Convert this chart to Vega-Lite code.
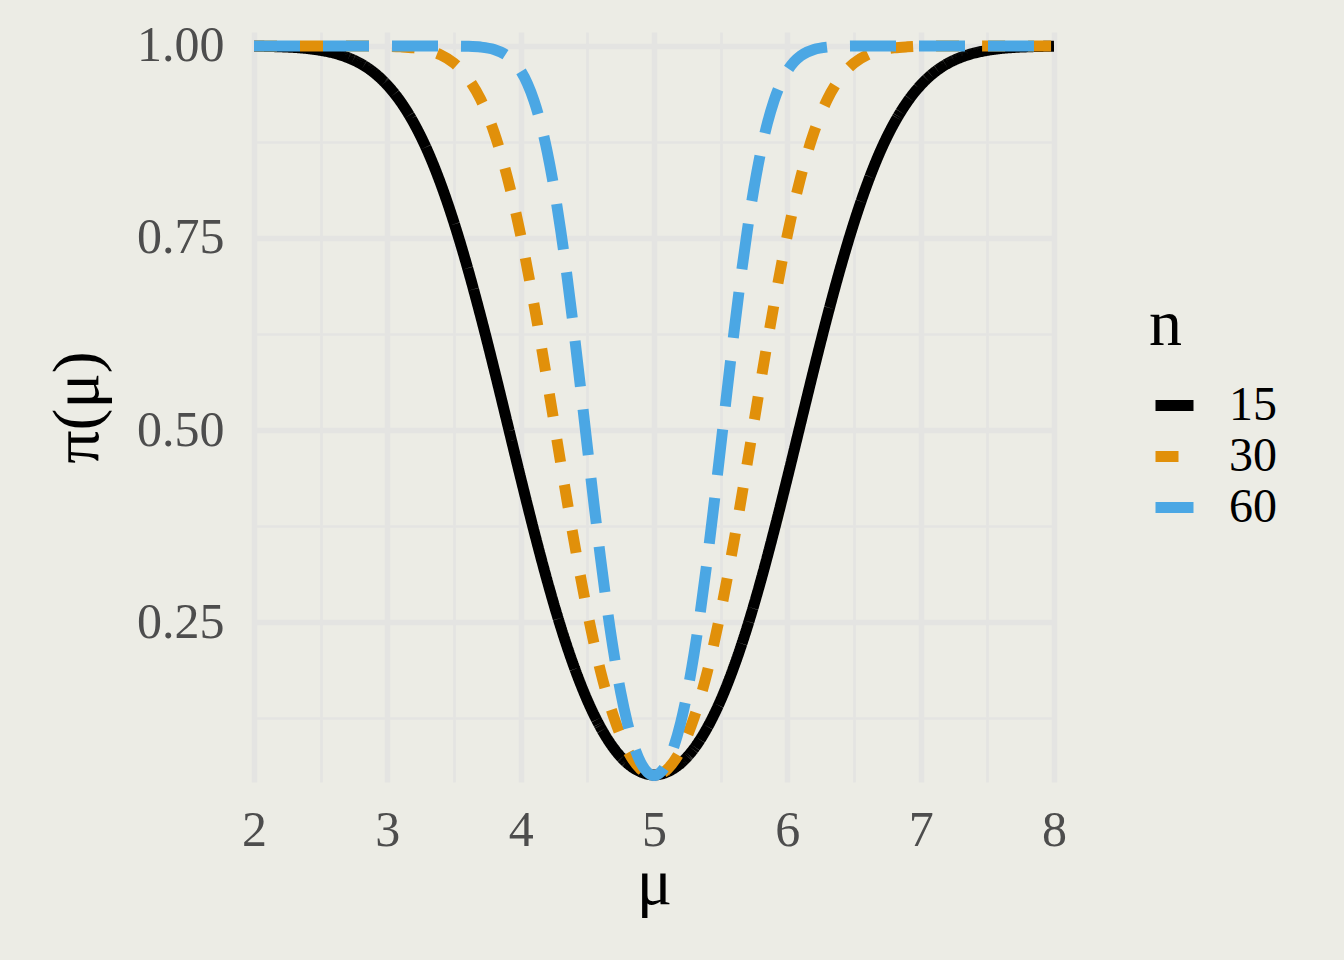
{
  "$schema": "https://vega.github.io/schema/vega-lite/v6.json",
  "autosize": {"type": "none"},
  "padding": {"left": 254, "top": 32, "right": 290, "bottom": 178},
  "width": 800,
  "height": 750,
  "background": "#ECECE5",
  "config": {
    "view": {"stroke": null, "fill": "#ECECE5"},
    "font": "Liberation Serif",
    "axis": {
      "domain": false,
      "ticks": false,
      "tickSize": 0,
      "labelFont": "Liberation Serif",
      "labelFontSize": 50,
      "labelColor": "#4D4D4D",
      "titleFont": "Liberation Serif",
      "titleFontSize": 66,
      "titleFontWeight": "normal",
      "titleColor": "#000000",
      "gridColor": "#E4E4E2",
      "gridOpacity": 1,
      "labelOverlap": false,
      "labelFlush": false
    },
    "legend": {
      "titleFont": "Liberation Serif",
      "titleFontSize": 66,
      "titleFontWeight": "normal",
      "titleColor": "#000000",
      "labelFont": "Liberation Serif",
      "labelFontSize": 48,
      "labelColor": "#000000",
      "symbolType": "stroke",
      "symbolSize": 1444,
      "symbolStrokeWidth": 11,
      "labelOffset": 30,
      "titlePadding": 22,
      "padding": 0,
      "symbolOffset": 1
    }
  },
  "data": {
    "values": [
      {"n": "15", "mu": 2.0, "p": 0.9997}, {"n": "15", "mu": 2.1, "p": 0.9994}, {"n": "15", "mu": 2.2, "p": 0.9989}, {"n": "15", "mu": 2.3, "p": 0.9981},
      {"n": "15", "mu": 2.4, "p": 0.9967}, {"n": "15", "mu": 2.5, "p": 0.9943}, {"n": "15", "mu": 2.6, "p": 0.9907}, {"n": "15", "mu": 2.7, "p": 0.9851},
      {"n": "15", "mu": 2.8, "p": 0.9770}, {"n": "15", "mu": 2.9, "p": 0.9653}, {"n": "15", "mu": 3.0, "p": 0.9490}, {"n": "15", "mu": 3.1, "p": 0.9273},
      {"n": "15", "mu": 3.2, "p": 0.8992}, {"n": "15", "mu": 3.3, "p": 0.8640}, {"n": "15", "mu": 3.4, "p": 0.8208}, {"n": "15", "mu": 3.5, "p": 0.7700},
      {"n": "15", "mu": 3.6, "p": 0.7121}, {"n": "15", "mu": 3.7, "p": 0.6482}, {"n": "15", "mu": 3.8, "p": 0.5798}, {"n": "15", "mu": 3.9, "p": 0.5088},
      {"n": "15", "mu": 4.0, "p": 0.4376}, {"n": "15", "mu": 4.1, "p": 0.3684}, {"n": "15", "mu": 4.2, "p": 0.3032}, {"n": "15", "mu": 4.3, "p": 0.2439},
      {"n": "15", "mu": 4.4, "p": 0.1921}, {"n": "15", "mu": 4.5, "p": 0.1482}, {"n": "15", "mu": 4.6, "p": 0.1126}, {"n": "15", "mu": 4.7, "p": 0.0852},
      {"n": "15", "mu": 4.8, "p": 0.0660}, {"n": "15", "mu": 4.9, "p": 0.0549}, {"n": "15", "mu": 5.0, "p": 0.0509},
      {"n": "15", "mu": 5.1, "p": 0.0549}, {"n": "15", "mu": 5.2, "p": 0.0660}, {"n": "15", "mu": 5.3, "p": 0.0852}, {"n": "15", "mu": 5.4, "p": 0.1126},
      {"n": "15", "mu": 5.5, "p": 0.1482}, {"n": "15", "mu": 5.6, "p": 0.1921}, {"n": "15", "mu": 5.7, "p": 0.2439}, {"n": "15", "mu": 5.8, "p": 0.3032},
      {"n": "15", "mu": 5.9, "p": 0.3684}, {"n": "15", "mu": 6.0, "p": 0.4376}, {"n": "15", "mu": 6.1, "p": 0.5088}, {"n": "15", "mu": 6.2, "p": 0.5798},
      {"n": "15", "mu": 6.3, "p": 0.6482}, {"n": "15", "mu": 6.4, "p": 0.7121}, {"n": "15", "mu": 6.5, "p": 0.7700}, {"n": "15", "mu": 6.6, "p": 0.8208},
      {"n": "15", "mu": 6.7, "p": 0.8640}, {"n": "15", "mu": 6.8, "p": 0.8992}, {"n": "15", "mu": 6.9, "p": 0.9273}, {"n": "15", "mu": 7.0, "p": 0.9490},
      {"n": "15", "mu": 7.1, "p": 0.9653}, {"n": "15", "mu": 7.2, "p": 0.9770}, {"n": "15", "mu": 7.3, "p": 0.9851}, {"n": "15", "mu": 7.4, "p": 0.9907},
      {"n": "15", "mu": 7.5, "p": 0.9943}, {"n": "15", "mu": 7.6, "p": 0.9967}, {"n": "15", "mu": 7.7, "p": 0.9981}, {"n": "15", "mu": 7.8, "p": 0.9989},
      {"n": "15", "mu": 7.9, "p": 0.9994}, {"n": "15", "mu": 8.0, "p": 0.9997},

      {"n": "30", "mu": 2.0, "p": 1.0}, {"n": "30", "mu": 2.5, "p": 1.0}, {"n": "30", "mu": 2.7, "p": 1.0}, {"n": "30", "mu": 2.8, "p": 0.9999},
      {"n": "30", "mu": 2.9, "p": 0.9998}, {"n": "30", "mu": 3.0, "p": 0.9996}, {"n": "30", "mu": 3.1, "p": 0.9989}, {"n": "30", "mu": 3.2, "p": 0.9975},
      {"n": "30", "mu": 3.3, "p": 0.9944}, {"n": "30", "mu": 3.4, "p": 0.9884}, {"n": "30", "mu": 3.5, "p": 0.9777}, {"n": "30", "mu": 3.6, "p": 0.9593},
      {"n": "30", "mu": 3.7, "p": 0.9304}, {"n": "30", "mu": 3.8, "p": 0.8878}, {"n": "30", "mu": 3.9, "p": 0.8290}, {"n": "30", "mu": 4.0, "p": 0.7538},
      {"n": "30", "mu": 4.1, "p": 0.6634}, {"n": "30", "mu": 4.2, "p": 0.5626}, {"n": "30", "mu": 4.3, "p": 0.4576}, {"n": "30", "mu": 4.4, "p": 0.3556},
      {"n": "30", "mu": 4.5, "p": 0.2632}, {"n": "30", "mu": 4.6, "p": 0.1853}, {"n": "30", "mu": 4.7, "p": 0.1253}, {"n": "30", "mu": 4.8, "p": 0.0831},
      {"n": "30", "mu": 4.9, "p": 0.0584}, {"n": "30", "mu": 5.0, "p": 0.0502},
      {"n": "30", "mu": 5.1, "p": 0.0584}, {"n": "30", "mu": 5.2, "p": 0.0831}, {"n": "30", "mu": 5.3, "p": 0.1253}, {"n": "30", "mu": 5.4, "p": 0.1853},
      {"n": "30", "mu": 5.5, "p": 0.2632}, {"n": "30", "mu": 5.6, "p": 0.3556}, {"n": "30", "mu": 5.7, "p": 0.4576}, {"n": "30", "mu": 5.8, "p": 0.5626},
      {"n": "30", "mu": 5.9, "p": 0.6634}, {"n": "30", "mu": 6.0, "p": 0.7538}, {"n": "30", "mu": 6.1, "p": 0.8290}, {"n": "30", "mu": 6.2, "p": 0.8878},
      {"n": "30", "mu": 6.3, "p": 0.9304}, {"n": "30", "mu": 6.4, "p": 0.9593}, {"n": "30", "mu": 6.5, "p": 0.9777}, {"n": "30", "mu": 6.6, "p": 0.9884},
      {"n": "30", "mu": 6.7, "p": 0.9944}, {"n": "30", "mu": 6.8, "p": 0.9975}, {"n": "30", "mu": 6.9, "p": 0.9989}, {"n": "30", "mu": 7.0, "p": 0.9996},
      {"n": "30", "mu": 7.1, "p": 0.9998}, {"n": "30", "mu": 7.2, "p": 0.9999}, {"n": "30", "mu": 7.3, "p": 1.0}, {"n": "30", "mu": 7.5, "p": 1.0},
      {"n": "30", "mu": 8.0, "p": 1.0},

      {"n": "60", "mu": 2.0, "p": 1.0}, {"n": "60", "mu": 2.5, "p": 1.0}, {"n": "60", "mu": 3.0, "p": 1.0}, {"n": "60", "mu": 3.4, "p": 1.0},
      {"n": "60", "mu": 3.5, "p": 0.9999}, {"n": "60", "mu": 3.6, "p": 0.9996}, {"n": "60", "mu": 3.7, "p": 0.9986}, {"n": "60", "mu": 3.8, "p": 0.9955},
      {"n": "60", "mu": 3.85, "p": 0.9922}, {"n": "60", "mu": 3.9, "p": 0.9871}, {"n": "60", "mu": 3.95, "p": 0.9792}, {"n": "60", "mu": 4.0, "p": 0.9676},
      {"n": "60", "mu": 4.05, "p": 0.9512}, {"n": "60", "mu": 4.1, "p": 0.9288}, {"n": "60", "mu": 4.15, "p": 0.8992}, {"n": "60", "mu": 4.2, "p": 0.8615},
      {"n": "60", "mu": 4.25, "p": 0.8151}, {"n": "60", "mu": 4.3, "p": 0.7601}, {"n": "60", "mu": 4.35, "p": 0.6970}, {"n": "60", "mu": 4.4, "p": 0.6276},
      {"n": "60", "mu": 4.45, "p": 0.5538}, {"n": "60", "mu": 4.5, "p": 0.4781}, {"n": "60", "mu": 4.55, "p": 0.4033}, {"n": "60", "mu": 4.6, "p": 0.3319},
      {"n": "60", "mu": 4.65, "p": 0.2662}, {"n": "60", "mu": 4.7, "p": 0.2081}, {"n": "60", "mu": 4.75, "p": 0.1587}, {"n": "60", "mu": 4.8, "p": 0.1188},
      {"n": "60", "mu": 4.85, "p": 0.0883}, {"n": "60", "mu": 4.9, "p": 0.0671}, {"n": "60", "mu": 4.95, "p": 0.0545}, {"n": "60", "mu": 5.0, "p": 0.0501},
      {"n": "60", "mu": 5.05, "p": 0.0545}, {"n": "60", "mu": 5.1, "p": 0.0671}, {"n": "60", "mu": 5.15, "p": 0.0883}, {"n": "60", "mu": 5.2, "p": 0.1188},
      {"n": "60", "mu": 5.25, "p": 0.1587}, {"n": "60", "mu": 5.3, "p": 0.2081}, {"n": "60", "mu": 5.35, "p": 0.2662}, {"n": "60", "mu": 5.4, "p": 0.3319},
      {"n": "60", "mu": 5.45, "p": 0.4033}, {"n": "60", "mu": 5.5, "p": 0.4781}, {"n": "60", "mu": 5.55, "p": 0.5538}, {"n": "60", "mu": 5.6, "p": 0.6276},
      {"n": "60", "mu": 5.65, "p": 0.6970}, {"n": "60", "mu": 5.7, "p": 0.7601}, {"n": "60", "mu": 5.75, "p": 0.8151}, {"n": "60", "mu": 5.8, "p": 0.8615},
      {"n": "60", "mu": 5.85, "p": 0.8992}, {"n": "60", "mu": 5.9, "p": 0.9288}, {"n": "60", "mu": 5.95, "p": 0.9512}, {"n": "60", "mu": 6.0, "p": 0.9676},
      {"n": "60", "mu": 6.05, "p": 0.9792}, {"n": "60", "mu": 6.1, "p": 0.9871}, {"n": "60", "mu": 6.15, "p": 0.9922}, {"n": "60", "mu": 6.2, "p": 0.9955},
      {"n": "60", "mu": 6.3, "p": 0.9986}, {"n": "60", "mu": 6.4, "p": 0.9996}, {"n": "60", "mu": 6.5, "p": 0.9999}, {"n": "60", "mu": 6.6, "p": 1.0},
      {"n": "60", "mu": 7.0, "p": 1.0}, {"n": "60", "mu": 7.5, "p": 1.0}, {"n": "60", "mu": 8.0, "p": 1.0}
    ]
  },
  "mark": {"type": "line", "strokeWidth": 11, "interpolate": "monotone", "clip": true, "strokeCap": "butt"},
  "encoding": {
    "x": {
      "field": "mu", "type": "quantitative",
      "scale": {"domain": [2, 8], "nice": false, "zero": false},
      "axis": {
        "title": "μ",
        "values": [2, 2.5, 3, 3.5, 4, 4.5, 5, 5.5, 6, 6.5, 7, 7.5, 8],
        "labelExpr": "datum.value % 1 === 0 ? format(datum.value, 'd') : ''",
        "labelBaseline": "alphabetic",
        "labelPadding": 63,
        "gridWidth": {"condition": {"test": "datum.value % 1 === 0", "value": 5.5}, "value": 2.7},
        "titleY": 121,
        "titleBaseline": "alphabetic"
      }
    },
    "y": {
      "field": "p", "type": "quantitative",
      "scale": {"domain": [0.0417, 1.0182], "nice": false, "zero": false},
      "axis": {
        "title": "π(μ)",
        "values": [0.125, 0.25, 0.375, 0.5, 0.625, 0.75, 0.875, 1.0],
        "labelExpr": "(datum.value * 4) % 1 === 0 ? format(datum.value, '.2f') : ''",
        "labelPadding": 30,
        "labelBaseline": "middle",
        "gridWidth": {"condition": {"test": "(datum.value * 4) % 1 === 0", "value": 5.5}, "value": 2.7},
        "titleX": -157,
        "titleY": 375,
        "titleAngle": 270,
        "titleAlign": "center",
        "titleBaseline": "alphabetic"
      }
    },
    "color": {
      "field": "n", "type": "nominal",
      "scale": {"domain": ["15", "30", "60"], "range": ["#000000", "#E1900A", "#4BA7E4"]},
      "legend": {"title": "n", "orient": "none", "legendX": 895, "legendY": 261}
    },
    "strokeDash": {
      "field": "n", "type": "nominal",
      "scale": {"domain": ["15", "30", "60"], "range": [[1, 0], [23, 23], [46, 23]]},
      "legend": {"title": "n", "orient": "none", "legendX": 895, "legendY": 261}
    }
  }
}
